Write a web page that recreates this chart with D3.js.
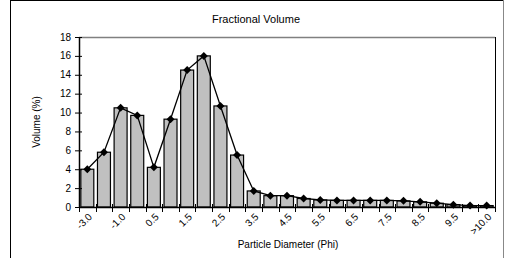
<!DOCTYPE html>
<html>
<head>
<meta charset="utf-8">
<script src="https://cdn.jsdelivr.net/npm/d3@7"></script>
<style>
  body { margin: 0; background: #fff; }
  svg { display: block; font-family: "Liberation Sans", Arial, sans-serif; }
</style>
</head>
<body>
<svg id="chart"></svg>
<script>
// phi classes (only every other one is labelled on the axis)
const categories = ["-3.0", "-2.0", "-1.0", "0.0", "0.5", "1.0", "1.5", "2.0", "2.5", "3.0",
  "3.5", "4.0", "4.5", "5.0", "5.5", "6.0", "6.5", "7.0", "7.5", "8.0",
  "8.5", "9.0", "9.5", "10.0", ">10.0"];
const volume = [4.0, 5.8, 10.5, 9.7, 4.2, 9.3, 14.5, 16.0, 10.7, 5.5,
  1.7, 1.2, 1.2, 0.9, 0.75, 0.7, 0.7, 0.7, 0.7, 0.65,
  0.55, 0.4, 0.25, 0.15, 0.15];
const yTicks = [0, 2, 4, 6, 8, 10, 12, 14, 16, 18];

const width = 513, height = 258;
const margin = { top: 37, right: 18, bottom: 51, left: 79 };
const innerW = width - margin.left - margin.right;
const innerH = height - margin.top - margin.bottom;

const data = categories.map((c, i) => ({ cat: c, v: volume[i] }));

const svg = d3.select("#chart")
  .attr("width", width)
  .attr("height", height);

// outer chart frame
svg.append("line").attr("x1", 10.5).attr("x2", 10.5).attr("y1", 0).attr("y2", height)
  .attr("stroke", "#000");
svg.append("line").attr("x1", 10).attr("x2", 503).attr("y1", 0.5).attr("y2", 0.5)
  .attr("stroke", "#000");
svg.append("line").attr("x1", 503.5).attr("x2", 503.5).attr("y1", 0).attr("y2", height)
  .attr("stroke", "#888");

const chart = svg.append("g")
  .attr("transform", `translate(${margin.left},${margin.top})`);

const x = d3.scaleBand()
  .domain(categories)
  .range([0, innerW])
  .paddingInner(0.22)
  .paddingOuter(0.11);

const y = d3.scaleLinear()
  .domain([0, 18])
  .range([innerH, 0]);

// plot area border (top grey, right black)
chart.append("line").attr("x1", 0).attr("x2", innerW).attr("y1", 0.5).attr("y2", 0.5)
  .attr("stroke", "#808080").attr("stroke-width", 1.5);
chart.append("line").attr("x1", innerW + 0.5).attr("x2", innerW + 0.5).attr("y1", 0).attr("y2", innerH)
  .attr("stroke", "#000");

// bars
chart.selectAll(".bar")
  .data(data)
  .enter()
  .append("rect")
    .attr("class", "bar")
    .attr("x", d => x(d.cat))
    .attr("y", d => y(d.v))
    .attr("width", x.bandwidth())
    .attr("height", d => innerH - y(d.v))
    .attr("fill", "#c0c0c0")
    .attr("stroke", "#000")
    .attr("stroke-width", 1.2);

// line + diamond markers
const cx = d => x(d.cat) + x.bandwidth() / 2;
chart.append("path")
  .datum(data)
  .attr("fill", "none")
  .attr("stroke", "#000")
  .attr("stroke-width", 1.3)
  .attr("d", d3.line().x(cx).y(d => y(d.v)));

chart.selectAll(".pt")
  .data(data)
  .enter()
  .append("path")
    .attr("class", "pt")
    .attr("d", d3.symbol(d3.symbolSquare, 32))
    .attr("transform", d => `translate(${cx(d)},${y(d.v)}) rotate(45)`)
    .attr("fill", "#000");

// y axis
const yAxis = chart.append("g").attr("class", "axis y-axis");
yAxis.append("line").attr("x1", 0.5).attr("x2", 0.5).attr("y1", 0).attr("y2", innerH)
  .attr("stroke", "#000").attr("stroke-width", 1.5);
yAxis.selectAll(".tick")
  .data(yTicks)
  .enter()
  .append("line")
    .attr("x1", -4).attr("x2", 3)
    .attr("y1", d => y(d) + 0.5).attr("y2", d => y(d) + 0.5)
    .attr("stroke", "#000");
yAxis.selectAll(".lbl")
  .data(yTicks)
  .enter()
  .append("text")
    .attr("x", -8)
    .attr("y", d => y(d))
    .attr("dy", "0.35em")
    .attr("text-anchor", "end")
    .attr("font-size", "10px")
    .attr("fill", "#000")
    .text(d => d);

// x axis (ticks at category boundaries)
const bounds = d3.range(categories.length + 1).map(i => i * innerW / categories.length);
const xAxis = chart.append("g").attr("class", "axis x-axis")
  .attr("transform", `translate(0,${innerH})`);
xAxis.append("line").attr("x1", 0).attr("x2", innerW).attr("y1", 0.5).attr("y2", 0.5)
  .attr("stroke", "#000").attr("stroke-width", 1.5);
xAxis.selectAll(".tick")
  .data(bounds)
  .enter()
  .append("line")
    .attr("x1", d => Math.round(d) + 0.5).attr("x2", d => Math.round(d) + 0.5)
    .attr("y1", -3).attr("y2", 5)
    .attr("stroke", "#000");
xAxis.selectAll(".lbl")
  .data(data.filter((d, i) => i % 2 === 0))
  .enter()
  .append("text")
    .attr("transform", d => `translate(${cx(d) + 3},${8}) rotate(-45)`)
    .attr("text-anchor", "end")
    .attr("dy", "0.35em")
    .attr("font-size", "10px")
    .attr("fill", "#000")
    .text(d => d.cat);

// titles
svg.append("text")
  .attr("x", 256)
  .attr("y", 23)
  .attr("text-anchor", "middle")
  .attr("font-size", "11px")
  .text("Fractional Volume");

svg.append("text")
  .attr("transform", `translate(40,${margin.top + innerH / 2}) rotate(-90)`)
  .attr("text-anchor", "middle")
  .attr("font-size", "10px")
  .text("Volume (%)");

svg.append("text")
  .attr("x", 288)
  .attr("y", 248)
  .attr("text-anchor", "middle")
  .attr("font-size", "10px")
  .text("Particle Diameter (Phi)");
</script>
</body>
</html>
